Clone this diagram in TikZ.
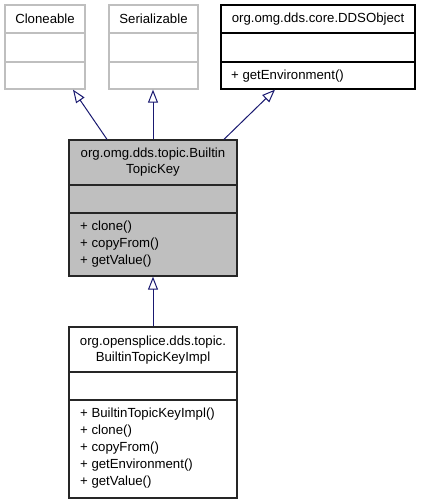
\documentclass[tikz,border=0pt]{standalone}
\usepackage{fontspec}
\setmainfont{Liberation Sans}
\usepackage{tikz}
\usetikzlibrary{calc,positioning,arrows.meta}
\usepackage{xcolor}
\definecolor{edgeblue}{rgb}{0.1, 0.1, 0.44}
\definecolor{fadegray}{rgb}{0.75, 0.75, 0.75}
\definecolor{keygray}{rgb}{0.75, 0.75, 0.75}
\begin{document}
\begin{tikzpicture}[x=1pt,y=-1pt,font=\fontsize{13.2}{16}\selectfont]
        \tikzstyle{classbox}=[draw,line width=1.3pt,inner sep=0pt,rectangle]
        \tikzstyle{member}=[anchor=west,inner sep=0pt]
        \tikzstyle{inherit}=[edgeblue,line width=1pt,-{Triangle[open,length=13pt,width=10pt]}]
        \useasboundingbox (0,0) rectangle (421,504);
        % Parent classes
        \node (clone)[classbox,fadegray,minimum width=80pt,minimum height=84pt] at (45,47) {};
        \node (serial)[classbox,fadegray,minimum width=89pt,minimum height=84pt] at (153.5,47) {};
        \node (dds)[classbox,black,minimum width=194pt,minimum height=84pt] at (318,47) {};
        \draw[fadegray,line width=1.3pt] (5,33) -- (85,33) (5,62) -- (85,62);
        \draw[fadegray,line width=1.3pt] (109,33) -- (198,33) (109,62) -- (198,62);
        \draw[line width=1.3pt] (221,33) -- (415,33) (221,62) -- (415,62);
        \node (clonename) at (45,19) {Cloneable};
        \node (serialname) at (153.5,19) {Serializable};
        \node (ddsname) at (318,19) {org.omg.dds.core.DDSObject};
        \node (dds1)[member] at (231,76) {+ getEnvironment()};
        % BuiltinTopicKey
        \node (key)[classbox,draw=black!85,fill=keygray,minimum width=168pt,minimum height=136pt] at (153,208) {};
        \draw[black!85,line width=1.3pt] (69,185) -- (237,185) (69,213) -- (237,213);
        \node (keyname1) at (153,154) {org.omg.dds.topic.Builtin};
        \node (keyname2) at (153,170) {TopicKey};
        \node (key1)[member] at (80,227) {+ clone()};
        \node (key2)[member] at (80,244) {+ copyFrom()};
        \node (key3)[member] at (80,261) {+ getValue()};
        % BuiltinTopicKeyImpl
        \node (impl)[classbox,black!85,minimum width=168pt,minimum height=171pt] at (153,412.5) {};
        \draw[black!85,line width=1.3pt] (69,372) -- (237,372) (69,400) -- (237,400);
        \node (implname1) at (153,342) {org.opensplice.dds.topic.};
        \node (implname2) at (153,358) {BuiltinTopicKeyImpl};
        \node (impl1)[member] at (80,414) {+ BuiltinTopicKeyImpl()};
        \node (impl2)[member] at (80,431) {+ clone()};
        \node (impl3)[member] at (80,448) {+ copyFrom()};
        \node (impl4)[member] at (80,465) {+ getEnvironment()};
        \node (impl5)[member] at (80,482) {+ getValue()};
        % Inheritance arrows
        \draw[inherit] ($(key.north)+(-46,0)$) -- ($(clone.south)+(28,0)$);
        \draw[inherit] (key.north) -- (serial.south -| key.north);
        \draw[inherit] ($(key.north)+(71,0)$) -- ($(dds.south)+(-43,0)$);
        \draw[inherit] (impl.north) -- (key.south);
\end{tikzpicture}
\end{document}
